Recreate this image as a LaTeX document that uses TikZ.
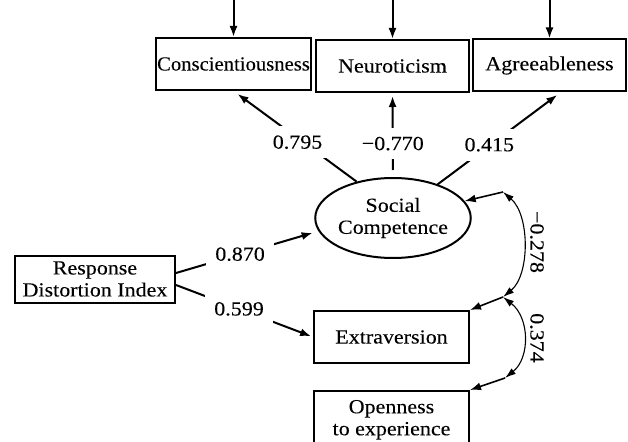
\documentclass[tikz,border=0pt]{standalone}
\usepackage{fontspec}
\setmainfont{Liberation Serif}[FakeStretch=1.1,FakeBold=0.12]
\usetikzlibrary{arrows.meta,shapes.geometric,calc}
\begin{document}
\begin{tikzpicture}[x=1pt,y=-1pt,
  every node/.style={font=\fontsize{20}{22}\selectfont},
  box/.style={draw,line width=2pt,minimum width=153pt,minimum height=52pt,inner sep=1pt,align=center},
  lat/.style={draw,ellipse,line width=2pt,minimum width=155pt,minimum height=80pt,inner sep=0pt,align=center},
  pathar/.style={line width=2pt,-{Latex[length=11pt,width=8pt]}},
  lbl/.style={fill=white,inner xsep=9pt,inner ysep=9pt},
  cov/.style={line width=1.1pt,{Latex[length=11pt,width=7pt]}-{Latex[length=11pt,width=7pt]}},
  rot/.style={rotate=-90,inner sep=0pt}
]
\fill[white] (0,0) rectangle (628,441);
\useasboundingbox (0,0) rectangle (628,441);

\node[box] (con) at (233.5,64) {\scalebox{0.94}[1]{Conscientiousness}};
\node[box] (neu) at (392.5,66) {Neuroticism};
\node[box] (agr) at (549.5,65.5) {Agreeableness};
\node[lat] (sc) at (393,218) {Social\\Competence};
\node[box,minimum width=160pt,minimum height=47pt] (rdi) at (95,279) {Response\\Distortion Index};
\node[box,minimum width=155pt] (ext) at (391.5,337) {Extraversion};
\node[box,minimum width=155pt,minimum height=0pt,anchor=north,inner ysep=9pt] (opn) at (391.5,390) {Openness\\to experience};

\coordinate (t1) at (233.5,0);
\coordinate (t2) at (392.5,0);
\coordinate (t3) at (549.5,0);
\draw[pathar] (t1) -- (con);
\draw[pathar] (t2) -- (neu);
\draw[pathar] (t3) -- (agr);

\draw[pathar,shorten >=5pt] (sc.135) -- (con.south) node[lbl,pos=0.48,yshift=-4pt]{0.795};
\draw[pathar,shorten >=3pt,shorten <=7pt] (sc.north) -- (neu.south) node[lbl,pos=0.41,yshift=-1pt]{−0.770};
\draw[pathar,shorten >=4pt] (sc.37) -- ([xshift=11pt]agr.south) node[lbl,pos=0.42,yshift=1pt]{0.415};

\draw[pathar,shorten >=6pt] ([yshift=6pt]rdi.east) -- (sc.190) node[lbl,pos=0.45]{0.870};
\draw[pathar,shorten >=2pt] ([yshift=-6pt]rdi.east) -- (ext.west) node[lbl,pos=0.46]{0.599};

\coordinate (c1) at (503,192);
\coordinate (c2) at (503,297);
\coordinate (c3) at (505,378);
\draw[pathar,line width=1.6pt] (c1) -- (sc);
\draw[pathar,line width=1.6pt] (c2) -- (ext.north east);
\draw[pathar,line width=1.6pt] (c3) -- (opn.north east);
\draw[cov] (c1) .. controls (530,215) and (530,275) .. (c2);
\draw[cov] (c2) .. controls (530,318) and (530,358) .. (c3);
\node[rot] (r1) at (537,242) {−0.278};
\node[rot] (r2) at (537,338) {0.374};
\end{tikzpicture}
\end{document}
